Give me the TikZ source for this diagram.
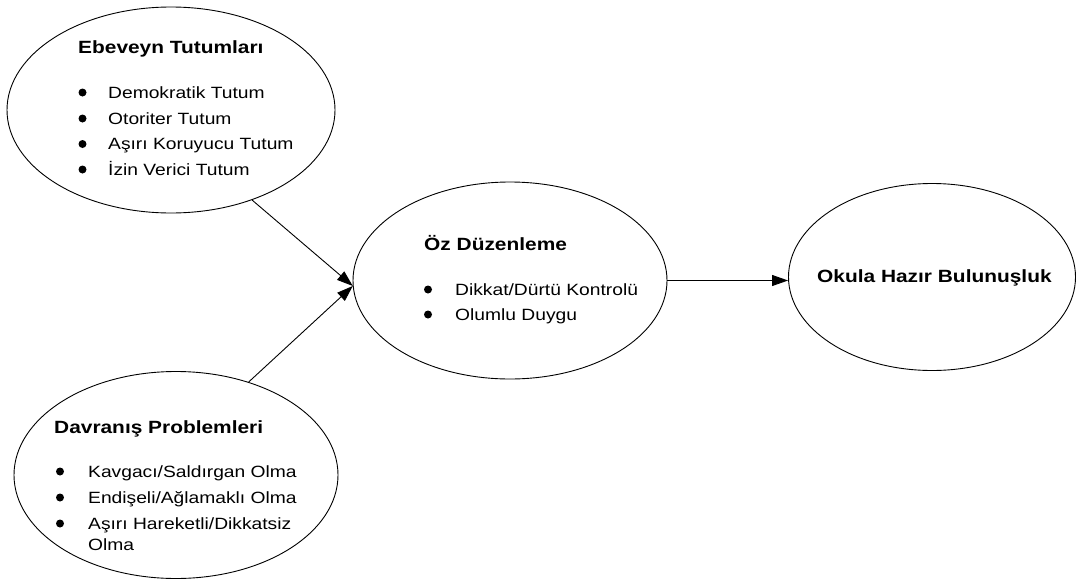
\documentclass[tikz,border=0pt]{standalone}
\usepackage{fontspec}
\setmainfont{Liberation Sans}[FakeStretch=1.18]
\usetikzlibrary{shapes.geometric,arrows.meta}
\tikzset{
  oval/.style={draw, ellipse, inner sep=0pt, line width=0.9pt},
  ttl/.style={anchor=base west, inner sep=0pt, font=\fontsize{17.7}{20}\selectfont\bfseries},
  itm/.style={anchor=base west, inner sep=0pt, font=\fontsize{16.3}{19}\selectfont},
  bul/.style={fill=black, circle, inner sep=0pt, minimum size=8pt},
  arr/.style={line width=0.9pt, -{Triangle[length=16pt,width=11pt]}}
}
\begin{document}
\begin{tikzpicture}[x=1pt,y=-1pt]
\useasboundingbox (0,0) rectangle (1076,581);
% ellipses
\node[oval, minimum width=328pt, minimum height=206pt] (e1) at (171,110) {};
\node[oval, minimum width=314pt, minimum height=197pt] (e2) at (510,280.5) {};
\node[oval, minimum width=287pt, minimum height=187pt] (e3) at (932,277) {};
\node[oval, minimum width=324pt, minimum height=207pt] (e4) at (176,475) {};
% Ebeveyn
\node[ttl] (t1) at (78,53) {Ebeveyn Tutumları};
\node[bul] (b11) at (82.5,92.5) {};
\node[itm] (i11) at (108,98) {Demokratik Tutum};
\node[bul] (b12) at (82.5,118.5) {};
\node[itm] (i12) at (108,124) {Otoriter Tutum};
\node[bul] (b13) at (82.5,144) {};
\node[itm] (i13) at (108,149.5) {Aşırı Koruyucu Tutum};
\node[bul] (b14) at (82.5,169.5) {};
\node[itm] (i14) at (108,175) {İzin Verici Tutum};
% Oz Duzenleme
\node[ttl] (t2) at (424,250) {Öz Düzenleme};
\node[bul] (b21) at (428,289.5) {};
\node[itm] (i21) at (455,295) {Dikkat/Dürtü Kontrolü};
\node[bul] (b22) at (428,314.5) {};
\node[itm] (i22) at (455,320) {Olumlu Duygu};
% Okula
\node[ttl] (t3) at (817,282) {Okula Hazır Bulunuşluk};
% Davranis
\node[ttl] (t4) at (54,433) {Davranış Problemleri};
\node[bul] (b41) at (60,471.5) {};
\node[itm] (i41) at (88,477) {Kavgacı/Saldırgan Olma};
\node[bul] (b42) at (60,497.5) {};
\node[itm] (i42) at (88,503) {Endişeli/Ağlamaklı Olma};
\node[bul] (b43) at (60,523.5) {};
\node[itm] (i43) at (88,529) {Aşırı Hareketli/Dikkatsiz};
\node[itm] (i44) at (88,550) {Olma};
% arrows
\draw[arr] (e1.-48.7) -- (e2.182);
\draw[arr] (e4.52) -- (e2.182);
\draw[arr] (e2.east) -- (e2.east -| e3.west);
\end{tikzpicture}
\end{document}
